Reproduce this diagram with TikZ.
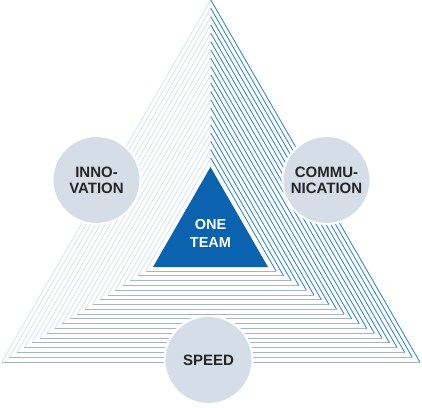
\documentclass[tikz,border=0pt]{standalone}
\usepackage{fontspec}
\setmainfont{Liberation Sans}
\definecolor{leftc}{HTML}{D8E3F0}
\definecolor{rightc}{HTML}{2E86CF}
\definecolor{basec}{HTML}{A8B5C8}
\definecolor{teamblue}{HTML}{0B62AF}
\definecolor{circfill}{HTML}{D5DDE6}
\definecolor{txt}{HTML}{262626}
\tikzset{
  leftedge/.style={draw=leftc, line width=0.85pt},
  rightedge/.style={draw=rightc, line width=0.85pt},
  baseedge/.style={draw=basec, line width=0.85pt},
  topic/.style={circle, fill=circfill, draw=white, line width=2pt, minimum size=88pt, inner sep=0pt,
    font=\bfseries\fontsize{15}{15.8}\selectfont, text=txt, align=center},
}
\begin{document}
\begin{tikzpicture}[x=1pt,y=-1pt]
\useasboundingbox (0,0) rectangle (422,407);
\foreach \i in {0,...,19}{
  \pgfmathsetmacro{\ay}{158*\i/19}
  \pgfmathsetmacro{\by}{362-91*\i/19}
  \pgfmathsetmacro{\hw}{(\by-\ay)/1.7320508}
  \coordinate (L\i) at ({210.8-\hw},\by);
  \coordinate (R\i) at ({210.8+\hw},\by);
  \coordinate (A\i) at (210.8,\ay);
  \draw[leftedge] (L\i) -- (A\i);
  \draw[baseedge] (L\i) -- (R\i);
  \draw[rightedge] (A\i) -- (R\i);
}
\coordinate (tA) at (210.5,167);
\coordinate (tL) at (153,267);
\coordinate (tR) at (268,267);
\fill[teamblue] (tA) -- (tL) -- (tR) -- cycle;
\node[font=\bfseries\fontsize{14.5}{17.3}\selectfont, text=white, align=center] (team) at (210.5,233.5) {ONE\\TEAM};
\node[topic] (innov) at (96.5,180) {INNO-\\VATION};
\node[topic] (comm) at (326.5,180) {COMMU-\\NICATION};
\node[topic] (speed) at (208.5,360) {SPEED};
\end{tikzpicture}
\end{document}
